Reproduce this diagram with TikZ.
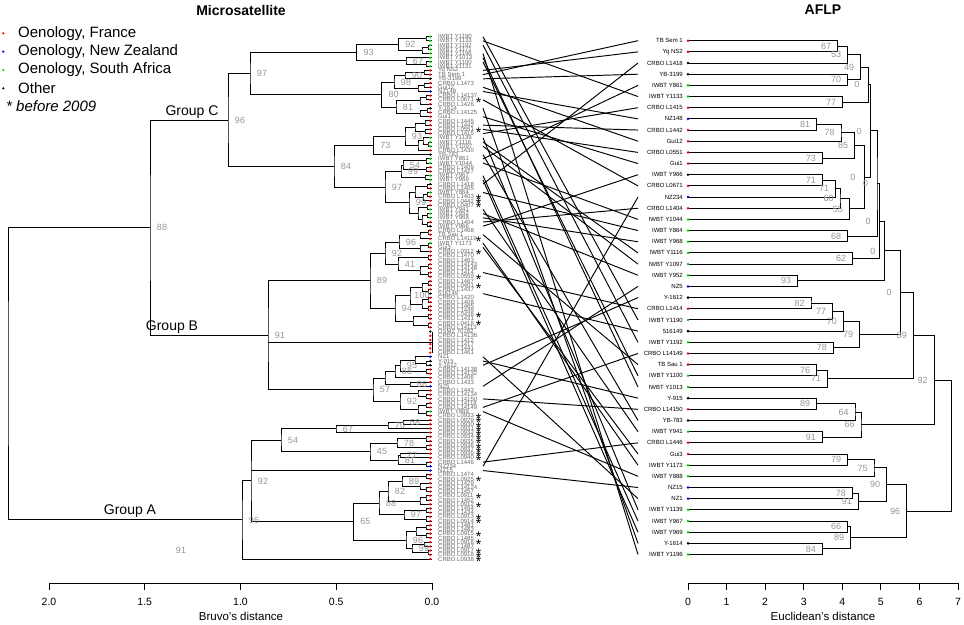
\documentclass[tikz,border=0pt]{standalone}
\usepackage{fontspec}
\setmainfont{Liberation Sans}
\usetikzlibrary{calc}
\definecolor{bsg}{RGB}{150,150,150}
\definecolor{sgreen}{RGB}{0,215,0}
\definecolor{labg}{RGB}{105,105,105}
\newcommand\bsoff{12}
\newcommand\dnode[5]{%
  \path (#3) -- (#4) coordinate[pos=.5] (m#1);
  \coordinate (x#1) at (#2,0);
  \coordinate (#1) at (m#1 -| x#1);
  \draw[tree] (#3) -| (#1) |- (#4);
  \node[bs] (t#1) at ([xshift=\bsoff pt]#1) {#5};}
\newcommand\dpoly[6]{%
  \path (#3) -- (#5) coordinate[pos=.5] (m#1);
  \coordinate (x#1) at (#2,0);
  \coordinate (#1) at (m#1 -| x#1);
  \draw[tree] (#3) -| (#1) |- (#5);
  \draw[tree] (#4) -- (#4 -| #1);
  \node[bs] (t#1) at ([xshift=\bsoff pt]#1) {#6};}
\newcommand\leftlist{1/IWBT Y1190/sgreen/0,2/IWBT Y1133/sgreen/0,3/IWBT Y1192/sgreen/0,4/IWBT Y1171/sgreen/0,5/IWBT Y1196/sgreen/0,6/IWBT Y1013/sgreen/0,7/IWBT Y1100/sgreen/0,8/IWBT Y1131/sgreen/0,9/Yq NS2/red/0,10/TB Sem 1/red/0,11/YB-3199/black/0,12/CRBO L1473/red/0,13/Gui12/red/0,14/NZ148/blue/0,15/CRBO L14137/red/0,16/CRBO L0671/red/1,17/CRBO L1426/red/0,18/Y-1614/black/0,19/CRBO L14125/red/0,20/Gui1/red/0,21/CRBO L1445/red/0,22/CRBO L1442/red/0,23/CRBO L0551/red/1,24/CRBO L1415/red/0,25/IWBT Y1139/sgreen/0,26/IWBT Y1116/sgreen/0,27/IWBT Y1097/sgreen/0,28/CRBO L1430/red/0,29/YB-783/black/0,30/IWBT Y861/sgreen/0,31/IWBT Y1044/sgreen/0,32/CRBO L1409/red/0,33/CRBO L1427/red/0,34/IWBT Y967/sgreen/0,35/IWBT Y969/sgreen/0,36/CRBO L1418/black/0,37/CRBO L1405/red/0,38/IWBT Y864/sgreen/0,39/CRBO L1403/red/1,40/CRBO L0442/red/1,41/CRBO L0407/red/1,42/IWBT Y941/sgreen/0,43/IWBT Y952/sgreen/0,44/IWBT Y968/sgreen/0,45/CRBO L1404/red/0,46/IWBT Y966/black/0,47/CRBO L1468/red/0,48/TB Sau 1/red/0,49/CRBO L14119/red/1,50/IWBT Y1173/sgreen/0,51/Gui3/red/0,52/CRBO L0312/red/1,53/CRBO L1470/red/0,54/CRBO L1463/red/0,55/CRBO L14143/red/0,56/CRBO L14148/red/0,57/CRBO L1414/red/0,58/CRBO L0559/red/1,59/CRBO L1467/red/0,60/CRBO L0401/red/1,61/CRBO L1437/red/0,62/516149/black/0,63/CRBO L1420/red/0,64/CRBO L1408/red/0,65/CRBO L1465/red/0,66/CRBO L1449/red/0,67/CRBO L0438/red/1,68/CRBO L1431/red/0,69/CRBO L0418/red/1,70/CRBO L14113/red/0,71/DSMZ 70282/black/0,72/CRBO L14136/red/0,73/CRBO L1412/red/0,74/CRBO L1417/red/0,75/CRBO L1441/red/0,76/CRBO L1461/red/0,77/NZ1/blue/0,78/Y-915/black/0,79/Y-1612/black/0,80/CRBO L14138/red/0,81/CRBO L14132/red/0,82/CRBO L1406/red/0,83/CRBO L1433/red/0,84/NZ5/blue/0,85/CRBO L1443/red/0,86/CRBO L14134/red/0,87/CRBO L14150/red/0,88/CRBO L14118/red/0,89/CRBO L14149/red/0,90/IWBT Y888/sgreen/0,91/CRBO L0933/red/1,92/CRBO L0929/red/1,93/CRBO L0930/red/1,94/CRBO L0931/red/1,95/CRBO L0932/red/1,96/CRBO L0934/red/1,97/CRBO L0935/red/1,98/CRBO L0936/red/1,99/CRBO L0937/red/1,100/CRBO L0939/red/1,101/CRBO L0940/red/1,102/CRBO L1446/red/0,103/NZ234/blue/0,104/NZ15/blue/0,105/CRBO L1474/red/0,106/CRBO L0925/red/1,107/CRBO L1429/red/0,108/CRBO L14124/red/0,109/CRBO L1457/red/0,110/CRBO L0911/red/1,111/CRBO L1452/red/0,112/CRBO L0912/red/1,113/CRBO L1454/red/0,114/CRBO L1434/red/0,115/CRBO L0913/red/1,116/CRBO L0914/red/1,117/CRBO L1481/red/0,118/CRBO L1483/red/0,119/CRBO L0915/red/1,120/CRBO L1485/red/0,121/CRBO L0916/red/1,122/CRBO L1487/red/0,123/CRBO L0917/red/1,124/CRBO L0918/red/1,125/CRBO L0938/red/1}
\newcommand\rightlist{1/TB Sem 1/red,2/Yq NS2/red,3/CRBO L1418/black,4/YB-3199/black,5/IWBT Y861/sgreen,6/IWBT Y1133/sgreen,7/CRBO L1415/red,8/NZ148/blue,9/CRBO L1442/red,10/Gui12/red,11/CRBO L0551/red,12/Gui1/red,13/IWBT Y966/black,14/CRBO L0671/red,15/NZ234/blue,16/CRBO L1404/red,17/IWBT Y1044/sgreen,18/IWBT Y864/sgreen,19/IWBT Y968/sgreen,20/IWBT Y1116/sgreen,21/IWBT Y1097/sgreen,22/IWBT Y952/sgreen,23/NZ5/blue,24/Y-1612/black,25/CRBO L1414/red,26/IWBT Y1190/sgreen,27/516149/black,28/IWBT Y1192/sgreen,29/CRBO L14149/red,30/TB Sau 1/red,31/IWBT Y1100/sgreen,32/IWBT Y1013/sgreen,33/Y-915/black,34/CRBO L14150/red,35/YB-783/black,36/IWBT Y941/sgreen,37/CRBO L1446/red,38/Gui3/red,39/IWBT Y1173/sgreen,40/IWBT Y888/sgreen,41/NZ15/blue,42/NZ1/blue,43/IWBT Y1139/sgreen,44/IWBT Y967/sgreen,45/IWBT Y969/sgreen,46/Y-1614/black,47/IWBT Y1196/sgreen}
\begin{document}
\begin{tikzpicture}[x=1pt,y=-1pt,
  tree/.style={line width=0.95pt,black},
  conn/.style={line width=0.95pt,black},
  axl/.style={line width=0.8pt,black},
  bs/.style={text=bsg,font=\fontsize{9}{9}\selectfont,inner sep=0pt},
  llab/.style={anchor=west,inner sep=0pt,text=labg,font=\fontsize{6}{6}\selectfont},
  rlab/.style={anchor=east,inner sep=0pt,font=\fontsize{6}{6}\selectfont},
  starst/.style={inner sep=0pt,font=\fontsize{14}{14}\selectfont,yshift=-3pt},
  legt/.style={anchor=west,inner sep=0pt,font=\fontsize{15}{15}\selectfont},
  grp/.style={inner sep=0pt,font=\fontsize{14}{14}\selectfont},
  tick/.style={inner sep=0pt,font=\fontsize{10.5}{10.5}\selectfont},
  axt/.style={inner sep=0pt,font=\fontsize{11.5}{11.5}\selectfont},
  ttl/.style={inner sep=0pt,font=\bfseries\fontsize{14}{14}\selectfont}]
\useasboundingbox (0,0) rectangle (964,624);
% titles
\node[ttl] (tmic) at (241,10) {Microsatellite};
\node[ttl] (taflp) at (823,10) {AFLP};
% legend
\fill[red] (3.3,33.3) circle (1.2);
\node[legt] (lg1) at (18,33.3) {Oenology, France};
\fill[blue] (3.3,51.6) circle (1.2);
\node[legt] (lg2) at (18,51.6) {Oenology, New Zealand};
\fill[sgreen] (3.3,70) circle (1.2);
\node[legt] (lg3) at (18,70) {Oenology, South Africa};
\fill[black] (3.3,88.3) circle (1.2);
\node[legt] (lg4) at (18,88.3) {Other};
\node[legt] (lg5) at (6,106.5) {\itshape * before 2009};
% left leaves
\foreach \i/\lab/\col/\st in \leftlist {
  \pgfmathsetmacro\yy{36.7+(\i-1)*4.212}
  \coordinate (L\i) at (432,\yy);
  \coordinate (LE\i) at (483,\yy);
  \node[llab] (ln\i) at (438,\yy) {\lab};
  \ifnum\st=1 \node[starst] (st\i) at (478.5,\yy) {*};\fi
}
% right leaves
\foreach \j/\lab/\col in \rightlist {
  \pgfmathsetmacro\yy{40.7+(\j-1)*11.17}
  \coordinate (R\j) at (688,\yy);
  \coordinate (RE\j) at (638,\yy);
  \node[rlab] (rn\j) at (683,\yy) {\lab};
}
% ---------- left tree ----------
\renewcommand\bsoff{12}
\dnode{a1}{426}{L1}{L2}{}
\dnode{a2}{428}{L3}{L4}{}
\dnode{a3}{422}{a2}{L5}{}
\dnode{a4}{398.3}{a1}{a3}{92}
\dnode{a5}{426}{L7}{L8}{}
\dnode{a6}{406}{L6}{a5}{67}
\dnode{a7}{356.7}{a4}{a6}{93}
\dnode{b1}{424}{L9}{L10}{}
\dnode{b2}{405}{b1}{L11}{90}
\dnode{b3}{424}{L12}{L13}{}
\dnode{b4}{418}{b3}{L14}{}
\dnode{b5}{394}{b2}{b4}{98}
\dnode{b6}{426}{L15}{L16}{}
\dnode{b7}{420}{b6}{L17}{}
\dnode{b8}{427}{L18}{L19}{}
\dnode{b9}{420}{b8}{L20}{}
\dnode{b10}{396}{b7}{b9}{81}
\dnode{b11}{381.7}{b5}{b10}{80}
\dnode{c1}{425}{L21}{L22}{}
\dnode{c2}{425}{L23}{L24}{}
\dnode{c3}{415}{c1}{c2}{}
\dnode{c4}{428}{L26}{L27}{}
\dnode{c5}{423}{L25}{c4}{}
\dnode{c6}{418}{c5}{L28}{}
\dnode{c7}{405}{c3}{c6}{93}
\dnode{c8}{373.3}{c7}{L29}{73}
\dnode{d1}{426}{L30}{L31}{}
\dnode{d2}{426}{L32}{L33}{}
\dnode{d3}{403}{d1}{d2}{54}
\dnode{d4}{425}{L34}{L35}{}
\dnode{d5}{401}{d3}{d4}{99}
\dnode{d6}{427}{L36}{L37}{}
\dnode{d7}{427}{L38}{L39}{}
\dnode{d8}{423}{d7}{L40}{}
\dnode{d9}{415}{d6}{d8}{}
\dnode{d10}{427}{L41}{L42}{}
\dnode{d11}{427}{L43}{L44}{}
\dnode{d12}{427}{L45}{L46}{}
\dnode{d13}{422}{d11}{d12}{}
\dnode{d14}{418}{d10}{d13}{}
\dnode{d15}{409}{d9}{d14}{99}
\dnode{d16}{385}{d5}{d15}{97}
\dnode{d17}{334}{c8}{d16}{84}
\dnode{e1}{250}{a7}{b11}{97}
\dnode{e2}{228}{e1}{d17}{96}
\dnode{f1}{428}{L47}{L48}{}
\dnode{f2}{420}{f1}{L49}{}
\dnode{f3}{428}{L50}{L51}{}
\dnode{f4}{420}{f3}{L52}{}
\dnode{f5}{399}{f2}{f4}{96}
\dnode{f6}{428}{L53}{L54}{}
\dnode{f7}{428}{L55}{L56}{}
\dnode{f8}{428}{L57}{L58}{}
\dnode{f9}{420}{f7}{f8}{}
\dnode{f10}{398}{f6}{f9}{41}
\dnode{f11}{385}{f5}{f10}{92}
\dnode{g1}{428}{L59}{L60}{}
\dnode{g2}{428}{L61}{L62}{}
\dnode{g3}{422}{g1}{g2}{}
\dnode{g4}{428}{L63}{L64}{}
\dnode{g5}{428}{L65}{L66}{}
\dnode{g6}{422}{g4}{g5}{}
\dnode{g7}{410}{g3}{g6}{100}
\dnode{g8}{428}{L67}{L68}{}
\dnode{g9}{428}{L69}{L70}{}
\dnode{g10}{413}{g8}{g9}{}
\dnode{g11}{395}{g7}{g10}{94}
\dnode{g12}{370}{f11}{g11}{89}
\coordinate (hz) at ($(L71)!.5!(L76)$);
\draw[tree] (L71) -- (L76);
\dnode{h1}{426}{L78}{L79}{}
\dnode{h2}{415}{L77}{h1}{}
\dnode{h3}{426}{L80}{L81}{}
\dnode{h4}{400}{h2}{h3}{95}
\dnode{h5}{395}{h4}{L82}{88}
\dnode{h6}{410}{L83}{L84}{86}
\dnode{h7}{385}{h5}{h6}{}
\dnode{h8}{426}{L86}{L87}{}
\dnode{h9}{418}{L85}{h8}{}
\dnode{h10}{426}{L88}{L89}{}
\dnode{h11}{426}{L90}{L91}{}
\dnode{h12}{418}{h10}{h11}{}
\dnode{h13}{400}{h9}{h12}{92}
\dnode{h14}{373}{h7}{h13}{57}
\dpoly{Bn}{268}{g12}{hz}{h14}{91}
\dnode{CB}{150}{e2}{Bn}{88}
\dnode{i1}{403}{L92}{L93}{68}
\dnode{i2}{388}{i1}{L94}{70}
\dnode{i3}{336}{i2}{L95}{67}
\dnode{i4}{426}{L96}{L97}{}
\dnode{i5}{426}{L98}{L99}{}
\dnode{i6}{397}{i4}{i5}{78}
\dnode{i7}{400}{L100}{L101}{77}
\dnode{i8}{426}{L102}{L103}{}
\dnode{i9}{398}{i7}{i8}{81}
\dnode{i10}{370}{i6}{i9}{45}
\dnode{i11}{281}{i3}{i10}{54}
\dnode{j1}{426}{L105}{L106}{}
\dnode{j2}{426}{L108}{L109}{}
\dnode{j3}{420}{L107}{j2}{}
\dnode{j4}{402}{j1}{j3}{89}
\dnode{j5}{426}{L110}{L111}{}
\dnode{j6}{420}{j5}{L112}{}
\dnode{j7}{388}{j4}{j6}{82}
\dnode{j8}{426}{L113}{L114}{}
\dnode{j9}{426}{L115}{L116}{}
\dnode{j10}{404}{j8}{j9}{97}
\dnode{j11}{379}{j7}{j10}{88}
\dnode{j12}{426}{L117}{L118}{}
\dnode{j13}{426}{L119}{L120}{}
\dnode{j14}{416}{j12}{j13}{}
\dnode{j15}{424}{L121}{L122}{}
\dnode{j16}{428}{L123}{L124}{}
\dnode{j17}{412}{j15}{j16}{99}
\dnode{j18}{406}{j14}{j17}{96}
\dnode{j19}{353.3}{j11}{j18}{65}
\dpoly{k1}{251}{i11}{L104}{j19}{92}
\dnode{k2}{242}{k1}{L125}{96}
\dnode{root}{8}{CB}{k2}{}
\node[bs] (t91) at (181,550) {91};
\node[grp] (gC) at (192,112) {Group C};
\node[grp] (gB) at (172,327) {Group B};
\node[grp] (gA) at (130,511) {Group A};
% ---------- right tree ----------
\renewcommand\bsoff{-11.5}
\dnode{rA}{837.7}{R1}{R2}{67}
\dnode{rB}{847.7}{rA}{R3}{53}
\dnode{rC}{847.7}{R4}{R5}{70}
\dnode{rD}{860.7}{rB}{rC}{49}
\dnode{rF}{842.7}{R6}{R7}{77}
\dnode{rE}{868.3}{rD}{rF}{0}
\dnode{rG}{816.7}{R8}{R9}{81}
\dnode{rH}{841}{rG}{R10}{78}
\dnode{rI}{822.3}{R11}{R12}{73}
\dnode{rJ}{854.7}{rH}{rI}{85}
\dnode{rK}{822.3}{R13}{R14}{71}
\dnode{rL}{835.7}{rK}{R15}{71}
\dnode{rM}{840}{rL}{R16}{60}
\dnode{rN}{849.3}{rM}{R17}{55}
\dnode{rQ}{864.3}{rJ}{rN}{0}
\dnode{rS}{870.7}{rE}{rQ}{0}
\dnode{rO}{847.7}{R18}{R19}{68}
\dnode{rR}{877}{rS}{rO}{0}
\dnode{rT}{852.7}{R20}{R21}{62}
\dnode{rU}{879.5}{rR}{rT}{0}
\dnode{rW}{797.7}{R22}{R23}{93}
\dnode{rV}{884.3}{rU}{rW}{0}
\dnode{rZa}{811}{R24}{R25}{82}
\dnode{rZb}{832.5}{rZa}{R26}{77}
\dnode{rZc}{843.3}{rZb}{R27}{70}
\dnode{rZd}{833.3}{R28}{R29}{78}
\dnode{rY}{859.7}{rZc}{rZd}{79}
\dnode{rX}{900.7}{rV}{rY}{0}
\dnode{rBa}{816.7}{R30}{R31}{76}
\dnode{rBb}{827.7}{rBa}{R32}{71}
\dnode{rAA}{913.3}{rX}{rBb}{89}
\dnode{rDa}{816.7}{R33}{R34}{89}
\dnode{rDb}{855}{rDa}{R35}{64}
\dnode{rDc}{822.3}{R36}{R37}{91}
\dnode{rDD}{861}{rDb}{rDc}{66}
\dnode{rCC}{934}{rAA}{rDD}{92}
\dnode{rGa}{847.7}{R38}{R39}{79}
\dnode{rGb}{874}{rGa}{R40}{75}
\dnode{rGc}{852.3}{R41}{R42}{78}
\dnode{rGd}{858.3}{rGc}{R43}{91}
\dnode{rGG}{886.7}{rGb}{rGd}{90}
\dnode{rHa}{847.7}{R44}{R45}{66}
\dnode{rHb}{822.3}{R46}{R47}{84}
\dnode{rHH}{850.7}{rHa}{rHb}{89}
\dnode{rFF}{906.7}{rGG}{rHH}{96}
\dnode{rRoot}{951}{rCC}{rFF}{}
% ---------- connectors ----------
\foreach \a/\b in {10/1,9/2,36/3,11/4,30/5,2/6,24/7,14/8,22/9,13/10,23/11,20/12,46/13,16/14,103/15,45/16,31/17,38/18,44/19,26/20,27/21,43/22,84/23,79/24,57/25,1/26,62/27,3/28,89/29,48/30,7/31,6/32,78/33,87/34,29/35,42/36,102/37,51/38,50/39,90/40,104/41,77/42,25/43,34/44,35/45,18/46,5/47}
  \draw[conn] (LE\a) -- (RE\b);
% ---------- dots ----------
\foreach \i/\lab/\col/\st in \leftlist {
  \pgfmathsetmacro\yy{36.7+(\i-1)*4.212}
  \fill[\col] (430.3,\yy) circle (1.3);
}
\foreach \j/\lab/\col in \rightlist {
  \pgfmathsetmacro\yy{40.7+(\j-1)*11.17}
  \fill[\col] (688,\yy) circle (1.4);
}
% ---------- axes ----------
\draw[axl] (49,583) coordinate (axl0) -- (432,583) coordinate (axl1);
\foreach \x/\t in {49/2.0,144.75/1.5,240.5/1.0,336.25/0.5,432/0.0}{
  \draw[axl] (\x,583) -- (\x,590);
  \node[tick] at (\x,602) {\t};
}
\node[axt] (bruvo) at (241,616) {Bruvo's distance};
\draw[axl] (688,583) coordinate (axr0) -- (958,583) coordinate (axr1);
\foreach \k in {0,...,7}{
  \pgfmathsetmacro\xx{688+38.57*\k}
  \draw[axl] (\xx,583) -- (\xx,590);
  \node[tick] at (\xx,602) {\k};
}
\node[axt] (eucl) at (823,616) {Euclidean's distance};
\end{tikzpicture}
\end{document}
